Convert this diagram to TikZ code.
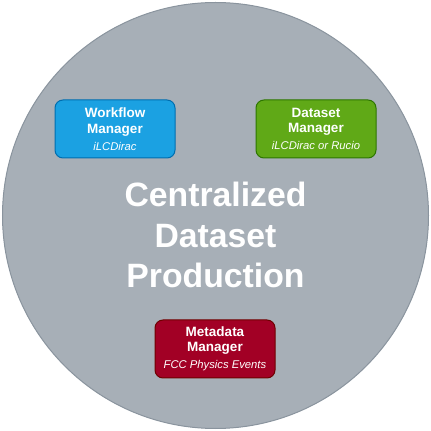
\documentclass[tikz,border=0pt]{standalone}
\usepackage{fontspec}
\setmainfont{Liberation Sans}
\definecolor{circlegray}{HTML}{A7AFB7}
\definecolor{circleedge}{HTML}{8A949E}
\definecolor{wfblue}{HTML}{1BA1E2}
\definecolor{wfblueedge}{HTML}{006EAF}
\definecolor{dsgreen}{HTML}{60A917}
\definecolor{dsgreenedge}{HTML}{2D7600}
\definecolor{mdred}{HTML}{A20025}
\definecolor{mdrededge}{HTML}{6F0000}
\usetikzlibrary{positioning}
\tikzset{
	circlenode/.style={
			circle,
			draw=circleedge,
			fill=circlegray,
			line width=1pt,
			minimum size=426pt,
			inner sep=0pt
		},
	managernode/.style={
			rectangle,
			rounded corners=8pt,
			line width=1pt,
			minimum width=120pt,
			minimum height=58pt,
			inner sep=0pt,
			text=white,
			align=center,
			font=\fontsize{13.5}{15.5}\selectfont\bfseries
		},
	workflownode/.style={
			managernode,
			draw=wfblueedge,
			fill=wfblue
		},
	datasetnode/.style={
			managernode,
			draw=dsgreenedge,
			fill=dsgreen
		},
	metadatanode/.style={
			managernode,
			draw=mdrededge,
			fill=mdred
		},
	titlenode/.style={
			text=white,
			align=center,
			font=\fontsize{33.75}{40.5}\selectfont\bfseries
		}
}
\newcommand{\subtext}[1]{{\fontsize{11.25}{13}\selectfont\mdseries\itshape #1}}

\begin{document}
\begin{tikzpicture}[x=1pt, y=1pt]
\useasboundingbox (0,0) rectangle (431,431);
\node[circlenode] (production) at (215.5,215.5) {};
\node[titlenode] (title) at (215.5,196) {Centralized\\Dataset\\Production};

\node[workflownode] (workflow) at (115,302) {Workflow\\Manager\\[1.5pt]\subtext{iLCDirac}};
\node[datasetnode] (dataset) at (316,302) {Dataset\\Manager\\[1.5pt]\subtext{iLCDirac or Rucio}};
\node[metadatanode] (metadata) at (215,82) {Metadata\\Manager\\[1.5pt]\subtext{FCC Physics Events}};
\end{tikzpicture}
\end{document}
